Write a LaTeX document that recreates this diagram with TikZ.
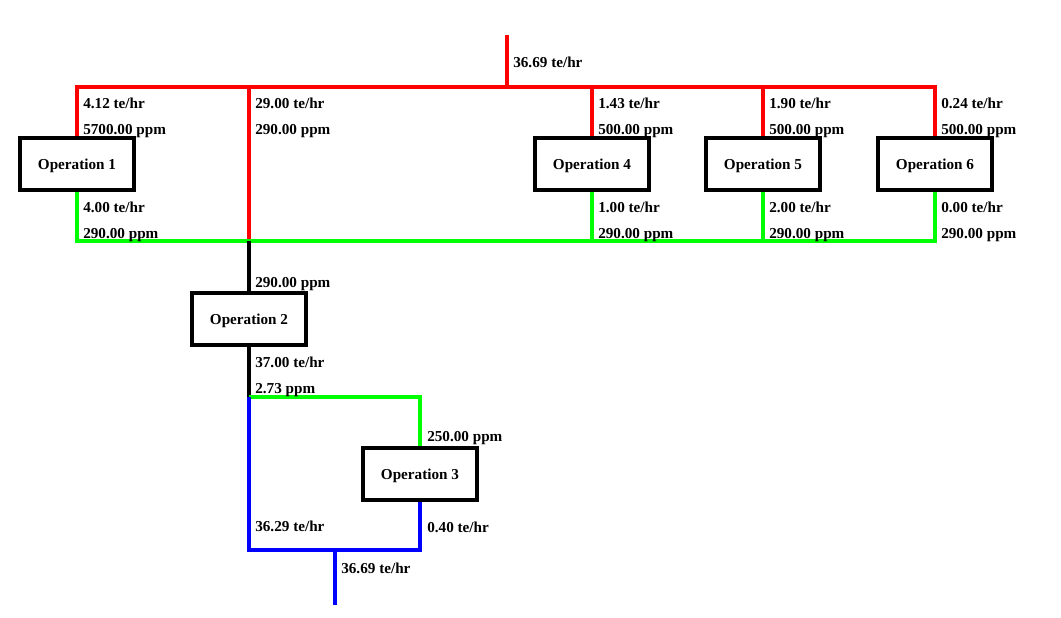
\documentclass[tikz,border=0pt]{standalone}
\usepackage{fontspec}
\setmainfont{Liberation Serif}

\definecolor{pipered}{RGB}{255,0,0}
\definecolor{pipegreen}{RGB}{0,255,0}
\definecolor{pipeblue}{RGB}{0,0,255}

\tikzset{
  op/.style={draw,line width=2.5pt,minimum width=2.85cm,minimum height=1.3cm,
    inner sep=0pt,text depth=0pt,font=\fontsize{10.8}{12}\selectfont\bfseries},
  lbl/.style={anchor=base west,inner sep=0pt,font=\fontsize{10.8}{12}\selectfont\bfseries},
  fresh/.style={draw=pipered,line width=2.2pt},
  reuse/.style={draw=pipegreen,line width=2.2pt},
  waste/.style={draw=pipeblue,line width=2.2pt},
  mixed/.style={draw=black,line width=2.2pt}
}

\begin{document}
\begin{tikzpicture}[x=0.025cm,y=-0.025cm]
    \useasboundingbox (0,0) rectangle (1061,618);
    % operations
    \node[op] (op1) at (77,164) {Operation 1};
    \node[op] (op2) at (249,319) {Operation 2};
    \node[op] (op3) at (420,474) {Operation 3};
    \node[op] (op4) at (592,164) {Operation 4};
    \node[op] (op5) at (763,164) {Operation 5};
    \node[op] (op6) at (935,164) {Operation 6};
    % junctions
    \coordinate (feed) at (507,35);
    \coordinate (hdr) at (507,87);
    \coordinate (bypass) at (249,87);
    \coordinate (pool) at (249,241);
    \coordinate (split) at (249,397);
    \coordinate (mix) at (335,550);
    \coordinate (outlet) at (335,605);

    % fresh water
    \draw[fresh] (feed) -- (hdr);
    \draw[fresh] (op1.north) -- (op1.north |- hdr) -- (op6.north |- hdr) -- (op6.north);
    \draw[fresh] (bypass) -- (pool);
    \foreach \n in {4,5}
        \draw[fresh] (op\n.north |- hdr) -- (op\n.north);
    % reused water
    \draw[reuse] (op1.south) -- (op1.south |- pool) -- (op6.south |- pool) -- (op6.south);
    \foreach \n in {4,5}
        \draw[reuse] (op\n.south) -- (op\n.south |- pool);
    \draw[mixed] (pool) -- (op2.north);
    \draw[mixed] (op2.south) -- (split);
    \draw[reuse] (split) -| (op3.north);
    % effluent
    \draw[waste] (split) |- (op3.south |- mix) -- (op3.south);
    \draw[waste] (mix) -- (outlet);

    % labels
    \path (feed) ++(6,32) node[lbl] (feedlbl) {36.69 te/hr};
    \path (bypass) ++(6,21) node[lbl] (bypassf) {29.00 te/hr}
        ++(0,26) node[lbl] (bypassc) {290.00 ppm};
    \foreach \n/\fin/\cin/\fout in {1/4.12/5700.00/4.00,4/1.43/500.00/1.00,
                                    5/1.90/500.00/2.00,6/0.24/500.00/0.00}{
        \path (op\n.north) ++(6,-28) node[lbl] (fin\n) {\fin\ te/hr}
            ++(0,26) node[lbl] (cin\n) {\cin\ ppm};
        \path (op\n.south) ++(6,21) node[lbl] (fout\n) {\fout\ te/hr}
            ++(0,26) node[lbl] (cout\n) {290.00 ppm};
    }
    \path (op2.north) ++(6,-4) node[lbl] (cin2) {290.00 ppm};
    \path (op2.south) ++(6,21) node[lbl] (fout2) {37.00 te/hr}
        ++(0,26) node[lbl] (cout2) {2.73 ppm};
    \path (op3.north) ++(7,-5) node[lbl] (cin3) {250.00 ppm};
    \path (op3.south) ++(7,31) node[lbl] (fout3) {0.40 te/hr};
    \path (split) ++(6,134) node[lbl] (splitf) {36.29 te/hr};
    \path (mix) ++(6,23) node[lbl] (outlbl) {36.69 te/hr};
\end{tikzpicture}
\end{document}
